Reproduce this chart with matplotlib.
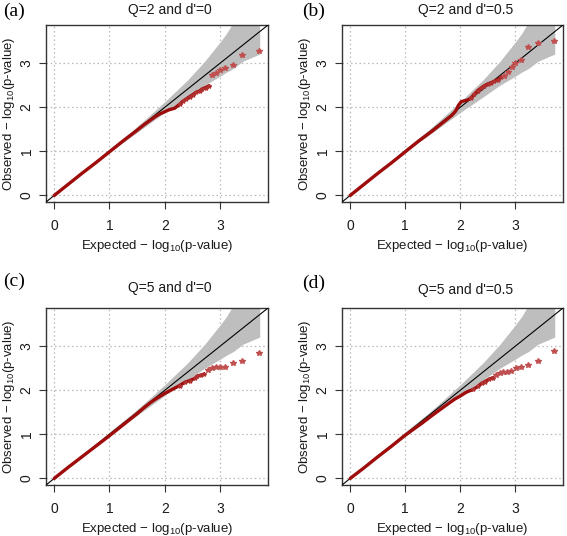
import matplotlib
matplotlib.use('Agg')
import matplotlib.pyplot as plt
import numpy as np

plt.rcParams['font.family'] = ['Liberation Sans', 'DejaVu Sans']
plt.rcParams['mathtext.fontset'] = 'custom'
plt.rcParams['mathtext.rm'] = 'Liberation Sans'
plt.rcParams['mathtext.it'] = 'Liberation Sans:italic'

# confidence band (same for all panels)
band_x = [0, 0.5, 1.0, 1.42, 1.72, 2.02, 2.42, 2.72, 3.02, 3.12, 3.24, 3.42, 3.72]
band_hi = [0, 0.52, 1.06, 1.48, 1.81, 2.15, 2.63, 3.04, 3.51, 3.68, 3.93, 4.34, 5.3]
band_lo = [0, 0.48, 0.985, 1.36, 1.63, 1.90, 2.24, 2.50, 2.72, 2.80, 2.88, 3.05, 3.21]

# (a) Q=2, d'=0
exp_a = [0, 0.25, 0.5, 0.75, 1.0, 1.25, 1.5, 1.62, 1.73, 1.82, 1.91, 2.0, 2.09, 2.18, 2.27,
         2.33, 2.39, 2.45, 2.51, 2.57, 2.63, 2.68, 2.74, 2.80]
obs_a = [0, 0.25, 0.5, 0.74, 0.99, 1.24, 1.48, 1.60, 1.70, 1.78, 1.85, 1.90, 1.95, 1.98, 2.07,
         2.14, 2.19, 2.24, 2.29, 2.34, 2.37, 2.42, 2.45, 2.49]
tail_exp_a = [2.85, 2.92, 3.00, 3.10, 3.23, 3.40, 3.70]
tail_obs_a = [2.73, 2.77, 2.85, 2.89, 2.96, 3.19, 3.27]

# (b) Q=2, d'=0.5
exp_b = [0, 0.25, 0.5, 0.75, 1.0, 1.25, 1.5, 1.62, 1.75, 1.85, 1.92, 1.97, 2.02, 2.08, 2.14,
         2.20, 2.26, 2.32, 2.38, 2.44, 2.50, 2.56, 2.62, 2.68, 2.74]
obs_b = [0, 0.25, 0.5, 0.74, 0.99, 1.24, 1.47, 1.59, 1.72, 1.82, 1.92, 2.05, 2.13, 2.15, 2.17,
         2.22, 2.30, 2.38, 2.44, 2.49, 2.53, 2.56, 2.59, 2.63, 2.68]
tail_exp_b = [2.80, 2.87, 2.94, 3.00, 3.10, 3.23, 3.42, 3.70]
tail_obs_b = [2.72, 2.81, 2.92, 3.00, 3.08, 3.37, 3.45, 3.51]

# (c) Q=5, d'=0
exp_c = [0, 0.25, 0.5, 0.75, 1.0, 1.25, 1.5, 1.62, 1.73, 1.82, 1.91, 2.0, 2.09, 2.18, 2.27,
         2.36, 2.45, 2.54, 2.59, 2.66, 2.71]
obs_c = [0, 0.25, 0.49, 0.73, 0.97, 1.22, 1.47, 1.60, 1.71, 1.79, 1.86, 1.93, 1.99, 2.05, 2.11,
         2.18, 2.22, 2.27, 2.32, 2.35, 2.37]
tail_exp_c = [2.79, 2.85, 2.92, 3.00, 3.10, 3.23, 3.40, 3.70]
tail_obs_c = [2.47, 2.50, 2.52, 2.54, 2.54, 2.63, 2.66, 2.84]

# (d) Q=5, d'=0.5
exp_d = [0, 0.25, 0.5, 0.75, 1.0, 1.3, 1.5, 1.73, 1.9, 2.0, 2.1, 2.17, 2.24, 2.33, 2.39,
         2.45, 2.52, 2.6]
obs_d = [0, 0.24, 0.49, 0.73, 0.98, 1.25, 1.44, 1.65, 1.80, 1.87, 1.95, 1.99, 2.02, 2.10, 2.16,
         2.20, 2.25, 2.29]
tail_exp_d = [2.65, 2.72, 2.78, 2.85, 2.93, 3.02, 3.10, 3.23, 3.42, 3.70]
tail_obs_d = [2.35, 2.39, 2.41, 2.42, 2.44, 2.50, 2.54, 2.58, 2.67, 2.90]

titles = ["Q=2 and d'=0", "Q=2 and d'=0.5", "Q=5 and d'=0", "Q=5 and d'=0.5"]
letters = ['(a)', '(b)', '(c)', '(d)']

W, H = 567, 536
fig = plt.figure(figsize=(W / 100, H / 100), dpi=100)

# panel boxes in pixels: left, top, right, bottom
boxes = [(46, 25, 268, 202), (342, 25, 563, 202), (46, 308, 268, 485), (342, 308, 563, 485)]
title_pos = [(170, 10), (466, 10), (170, 288), (466, 290)]
letter_pos = [(3, 11), (302, 11), (3, 281), (302, 283)]

data = [(exp_a, obs_a, tail_exp_a, tail_obs_a),
        (exp_b, obs_b, tail_exp_b, tail_obs_b),
        (exp_c, obs_c, tail_exp_c, tail_obs_c),
        (exp_d, obs_d, tail_exp_d, tail_obs_d)]

txt = '#1a1a1a'
for k in range(4):
    l, t, r, b = boxes[k]
    ax = fig.add_axes([l / W, 1 - b / H, (r - l) / W, (b - t) / H])
    ex, ob, tex, tob = data[k]
    ex = np.array(ex)
    ob = np.array(ob)

    ax.fill_between(band_x, band_lo, band_hi, color='#bebebe', lw=0, zorder=2)
    ax.axline((0, 0), slope=1, color='black', lw=0.8, zorder=3)
    ax.plot(ex, ob, color='#9e0c0c', lw=2.4, solid_capstyle='round', zorder=4)
    upper = ex >= 2.2
    ax.plot(ex[upper], ob[upper], ls='none', marker='*', ms=3, color='#b03030', zorder=4)
    ax.plot(tex, tob, ls='none', marker='*', ms=4, color='#c05050', zorder=4)

    ax.set_xlim(-0.149, 3.87)
    ax.set_ylim(-0.149, 3.87)
    ticks = [0, 1, 2, 3]
    ax.set_xticks(ticks)
    ax.set_yticks(ticks)
    ax.set_xticklabels([str(v) for v in ticks], fontsize=10, color=txt)
    ax.set_yticklabels([str(v) for v in ticks], fontsize=10, color=txt,
                       rotation=90, va='center')
    ax.tick_params(direction='out', length=5, width=0.8, color='#333333')
    ax.tick_params(axis='x', pad=7)
    ax.tick_params(axis='y', pad=4)
    for v in ticks:
        ax.axvline(v, color='#b8b8b8', lw=0.9, ls=(0, (1.2, 2.2)), zorder=1)
        ax.axhline(v, color='#b8b8b8', lw=0.9, ls=(0, (1.2, 2.2)), zorder=1)
    for s in ax.spines.values():
        s.set_color('#333333')
        s.set_linewidth(1.0)

    ax.set_xlabel('Expected \u2212 log$_{10}$(p-value)', fontsize=9.5, color=txt, va='center')
    ax.set_ylabel('Observed \u2212 log$_{10}$(p-value)', fontsize=9.5, color=txt, va='center')
    ax.xaxis.set_label_coords(0.5, -44 / (b - t))
    ax.yaxis.set_label_coords(-(l - 9) / (r - l) if k % 2 == 0 else -(l - 296 - 9) / (r - l), 0.5)

    tx, ty = title_pos[k]
    fig.text(tx / W, 1 - ty / H, titles[k], fontsize=10, color=txt, ha='center', va='center')
    lx, ly = letter_pos[k]
    fig.text(lx / W, 1 - ly / H, letters[k], fontsize=14, family='Liberation Serif',
             color='black', ha='left', va='center')

fig.savefig('out.png', dpi=100)
